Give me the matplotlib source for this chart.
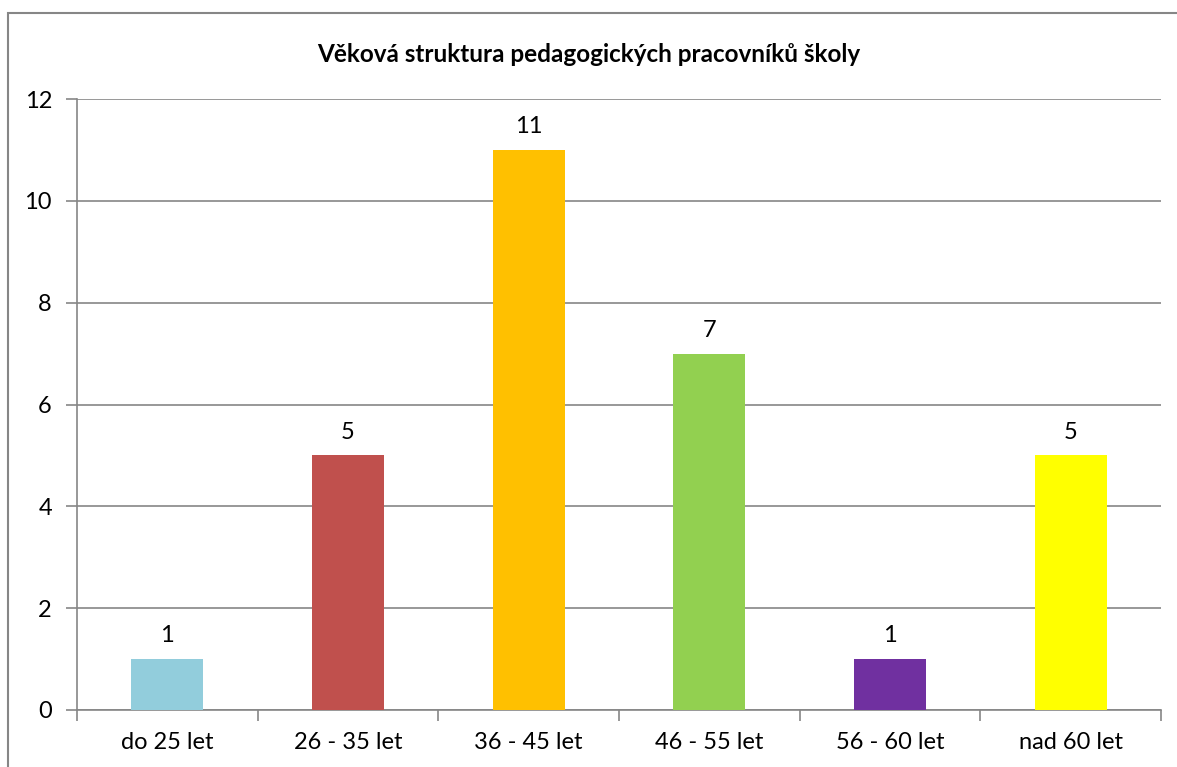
import matplotlib.pyplot as plt
import matplotlib.patches as patches
import numpy as np

plt.rcParams['font.family'] = ['Lato', 'DejaVu Sans']

kategorie = ['do 25 let', '26 - 35 let', '36 - 45 let', '46 - 55 let', '56 - 60 let', 'nad 60 let']
pocty = [1, 5, 11, 7, 1, 5]
barvy = ['#92CDDC', '#C0504D', '#FFC000', '#92D050', '#7030A0', '#FFFF00']

W, H = 1177, 767
fig = plt.figure(figsize=(W / 100, H / 100), dpi=100)

# rámeček grafu
fig.patches.append(patches.Rectangle((8 / W, -0.1), 1.1, 1.1 - 13 / H,
                                     transform=fig.transFigure, fill=False,
                                     edgecolor='#868686', linewidth=1.5))

ax = fig.add_axes([77 / W, 1 - 710 / H, (1161 - 77) / W, (710 - 99) / H])

x = np.arange(len(kategorie))
ax.bar(x, pocty, width=0.4, color=barvy, zorder=3)
for xi, v in zip(x, pocty):
    ax.text(xi, v + 0.25, str(v), ha='center', va='bottom', fontsize=17)

ax.set_xlim(-0.5, len(kategorie) - 0.5)
ax.set_ylim(0, 12)
ax.set_yticks(range(0, 13, 2))
ax.yaxis.grid(True, color='#868686', linewidth=1.2, zorder=0)
ax.set_xticks(x)
ax.set_xticklabels(kategorie, fontsize=17)
ax.set_xticks(np.arange(-0.5, len(kategorie)), minor=True)
ax.tick_params(axis='x', which='major', length=0, pad=16)
ax.tick_params(axis='x', which='minor', length=8, color='#868686', width=1.2)
ax.tick_params(axis='y', length=8, color='#868686', width=1.2, labelsize=17, pad=10)
for s in ['top', 'right']:
    ax.spines[s].set_visible(False)
for s in ['left', 'bottom']:
    ax.spines[s].set_color('#868686')
    ax.spines[s].set_linewidth(1.2)

fig.text(0.5, 1 - 55 / H, 'Věková struktura pedagogických pracovníků školy',
         ha='center', va='center', fontsize=17.5, fontweight='bold')

fig.savefig('out.png', dpi=100)
